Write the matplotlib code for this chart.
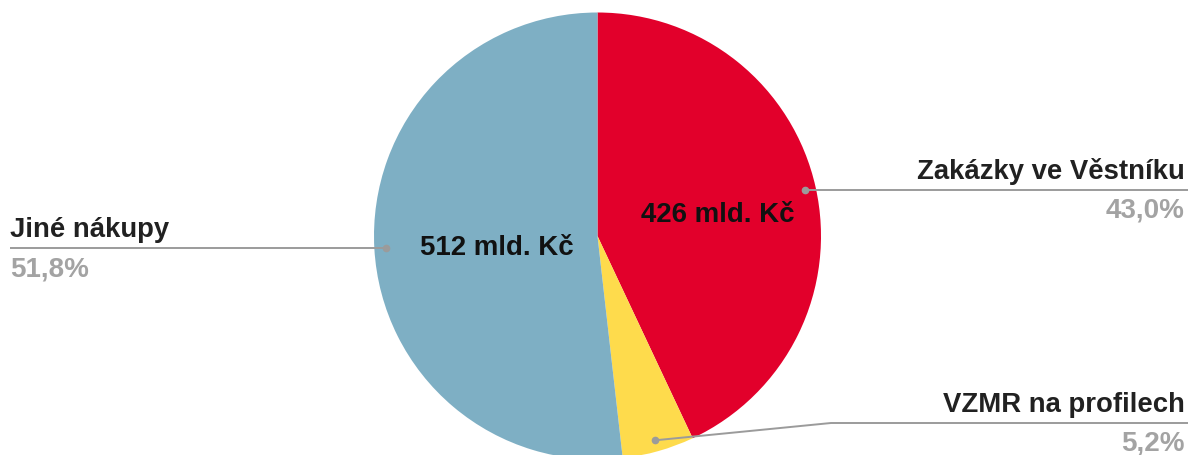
import numpy as np
import matplotlib
matplotlib.use('Agg')
import matplotlib.pyplot as plt

###################################################################################################
###################################################################################################

# Data: share of public purchases (clockwise from top)
categories = ['Zakázky ve Věstníku', 'VZMR na profilech', 'Jiné nákupy']
shares = [43.0, 5.2, 51.8]
amounts = ['426 mld. Kč', None, '512 mld. Kč']
colors = ['#e2002b', '#fedb4c', '#7eafc4']

W, H = 1188, 456
plt.rcParams['font.family'] = ['Liberation Sans', 'DejaVu Sans']

fig = plt.figure(figsize=(W / 100, H / 100), dpi=100)
ax = fig.add_axes([0, 0, 1, 1])

# Pie geometry in pixel units (y measured upward)
cx, cy, R = 597.5, H - 237, 223.5

ax.pie(shares, colors=colors, startangle=90, counterclock=False,
       center=(cx, cy), radius=R, wedgeprops={'linewidth': 0})

# Mid angles of wedges (degrees, counterclockwise from +x)
ends = 90 - np.cumsum(shares) * 3.6
starts = np.concatenate([[90], ends[:-1]])
mids = np.deg2rad((starts + ends) / 2)

# Amount labels inside the wedges (baseline placed half a cap height below centre)
in_dist = [0.55, None, 0.45]
for mid, amt, d in zip(mids, amounts, in_dist):
    if amt is None:
        continue
    ax.text(cx + d * R * np.cos(mid), cy + d * R * np.sin(mid) - 12, amt,
            ha='center', va='baseline', fontsize=19.9, fontweight='bold', color='#111111')

# Outer labels with leader lines
line_col = '#9b9b9b'
dark, grey = '#212121', '#a3a3a3'
# (side, y of label line in px from top, elbow x or None)
layout = [('right', None, None), ('right', 424, 831), ('left', None, None)]

for mid, name, share, (side, ly, ex) in zip(mids, categories, shares, layout):
    dx, dy = cx + 0.95 * R * np.cos(mid), cy + 0.95 * R * np.sin(mid)
    y_line = dy if ly is None else H - ly
    if side == 'right':
        xs = [dx, W] if ex is None else [dx, ex, W]
        tx, ha = W - 3, 'right'
    else:
        xs = [dx, 10]
        tx, ha = 10, 'left'
    ys = [dy] + [y_line] * (len(xs) - 1)
    ax.plot(xs, ys, color=line_col, lw=1.4, solid_capstyle='butt', zorder=3)
    ax.plot(dx, dy, 'o', color=line_col, ms=4.5, zorder=4)
    ax.text(tx, y_line + 19, name, ha=ha, va='center', fontsize=19.8,
            fontweight='bold', color=dark)
    pct = ('%.1f%%' % share).replace('.', ',')
    ax.text(tx, y_line - 20, pct, ha=ha, va='center', fontsize=20,
            fontweight='bold', color=grey)

ax.set_xlim(0, W)
ax.set_ylim(0, H)
ax.set_aspect('auto')
ax.axis('off')

fig.savefig('out.png', dpi=100)
